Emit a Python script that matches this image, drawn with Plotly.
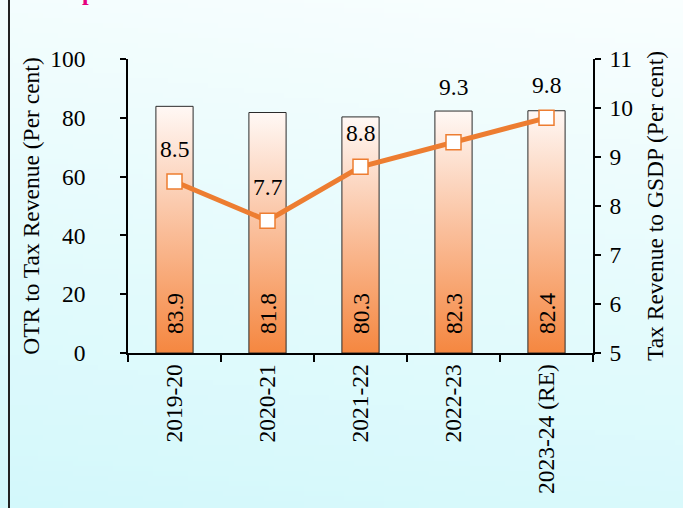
import base64, struct, zlib
import plotly.graph_objects as go

# ---------------- data ----------------
years = ["2019-20", "2020-21", "2021-22", "2022-23", "2023-24 (RE)"]
otr_share = [83.9, 81.8, 80.3, 82.3, 82.4]          # OTR to Tax Revenue (%)
tax_gsdp = [8.5, 7.7, 8.8, 9.3, 9.8]                # Tax Revenue to GSDP (%)
left_ticks = [0, 20, 40, 60, 80, 100]
right_ticks = [5, 6, 7, 8, 9, 10, 11]

# label offsets (style) for the line labels, in pixels above the markers
line_label_shift = [33, 34, 34, 55, 33]

# ---------------- layout geometry ----------------
W, H = 683, 508
ML, MR, MT, MB = 128, 90, 59, 155
PW, PH = W - ML - MR, H - MT - MB

def px_x(p):  # pixel -> paper x
    return (p - ML) / PW

def px_y(p):  # pixel -> paper y
    return 1 - (p - MT) / PH

FONT = "Liberation Serif, Times New Roman, serif"
FS = 23.5
ORANGE = "#ED7D31"

# ---------------- background gradient image ----------------
def make_png(w, h):
    top = (249, 254, 254)
    bot = (211, 248, 251)
    rows = []
    for y in range(h):
        row = bytearray([0])
        for x in range(w):
            t = 0.85 * y / (h - 1) + 0.15 * (1 - x / (w - 1))
            t = min(max(t, 0), 1)
            row += bytes(int(round(top[k] + (bot[k] - top[k]) * t)) for k in range(3))
        rows.append(bytes(row))
    raw = b"".join(rows)

    def chunk(tag, data):
        c = struct.pack(">I", len(data)) + tag + data
        return c + struct.pack(">I", zlib.crc32(tag + data) & 0xFFFFFFFF)

    png = b"\x89PNG\r\n\x1a\n"
    png += chunk(b"IHDR", struct.pack(">IIBBBBB", w, h, 8, 2, 0, 0, 0))
    png += chunk(b"IDAT", zlib.compress(raw, 9))
    png += chunk(b"IEND", b"")
    return "data:image/png;base64," + base64.b64encode(png).decode()

bg = make_png(136, 101)

fig = go.Figure()

# ---------------- bars (gradient filled polygons) ----------------
half = 0.2
for i, v in enumerate(otr_share):
    xs = [i - half, i + half, i + half, i - half, i - half]
    ys = [0, 0, v, v, 0]
    fig.add_trace(go.Scatter(
        x=xs, y=ys, mode="lines", fill="toself",
        fillgradient=dict(type="vertical",
                          colorscale=[[0, "#F58740"], [0.5, "#FABE9A"], [1, "#FFF8F5"]]),
        line=dict(color="#2b2b2b", width=1),
        hoverinfo="skip", showlegend=False, xaxis="x", yaxis="y"))

# ---------------- line ----------------
fig.add_trace(go.Scatter(
    x=list(range(len(years))), y=tax_gsdp, mode="lines+markers",
    line=dict(color=ORANGE, width=5),
    marker=dict(symbol="square", size=15, color="white",
                line=dict(color=ORANGE, width=1.5)),
    showlegend=False, xaxis="x", yaxis="y2"))

annotations = []
for i, v in enumerate(otr_share):
    annotations.append(dict(x=i, y=0, xref="x", yref="y", text=f"{v:.1f}",
                            textangle=-90, showarrow=False, yanchor="bottom",
                            yshift=17, font=dict(family=FONT, size=FS, color="black")))
for i, v in enumerate(tax_gsdp):
    annotations.append(dict(x=i, y=v, xref="x", yref="y2", text=f"{v:.1f}",
                            showarrow=False, yanchor="middle", yshift=line_label_shift[i],
                            font=dict(family=FONT, size=FS, color="black")))
# clipped magenta heading fragment at top
annotations.append(dict(x=px_x(88), y=px_y(7), xref="paper", yref="paper", text="<b>p</b>",
                        showarrow=False, xanchor="center", yanchor="bottom",
                        font=dict(family=FONT, size=24, color="#E6007E")))

fig.update_layout(
    width=W, height=H,
    margin=dict(l=ML, r=MR, t=MT, b=MB, pad=0),
    paper_bgcolor="rgba(0,0,0,0)", plot_bgcolor="rgba(0,0,0,0)",
    font=dict(family=FONT, size=FS, color="black"),
    images=[dict(source=bg, xref="paper", yref="paper",
                 x=px_x(0), y=px_y(0), sizex=W / PW, sizey=H / PH,
                 xanchor="left", yanchor="top", sizing="stretch", layer="below")],
    shapes=[dict(type="line", xref="paper", yref="paper",
                 x0=px_x(9), x1=px_x(9), y0=px_y(0), y1=px_y(H),
                 line=dict(color="#222222", width=2))],
    annotations=annotations,
    xaxis=dict(range=[-0.5, len(years) - 0.5], tickmode="array",
               tickvals=list(range(len(years))), ticktext=years, tickangle=-90,
               ticks="", showgrid=False, zeroline=False, showline=True,
               linecolor="black", linewidth=1.5,
               tickfont=dict(family=FONT, size=FS, color="black"),
               minor=dict(tickmode="array",
                          tickvals=[i - 0.5 for i in range(len(years) + 1)],
                          ticks="outside", ticklen=7, tickwidth=1.5, tickcolor="black",
                          showgrid=False)),
    yaxis=dict(range=[0, 100], tickmode="array", tickvals=left_ticks,
               ticks="outside", ticklen=6, tickwidth=1.5, tickcolor="black",
               showline=True, linecolor="black", linewidth=1.5,
               showgrid=False, zeroline=False, ticklabelstandoff=30,
               tickfont=dict(family=FONT, size=FS, color="black"),
               title=dict(text="OTR to Tax Revenue (Per cent)", standoff=4,
                          font=dict(family=FONT, size=FS, color="black"))),
    yaxis2=dict(range=[5, 11], tickmode="array", tickvals=right_ticks,
                overlaying="y", side="right",
                ticks="outside", ticklen=6, tickwidth=1.5, tickcolor="black",
                showline=True, linecolor="black", linewidth=1.5,
                showgrid=False, zeroline=False, ticklabelstandoff=4,
                tickfont=dict(family=FONT, size=FS, color="black"),
                title=dict(text="Tax Revenue to GSDP (Per cent)", standoff=15,
                           font=dict(family=FONT, size=FS, color="black"))),
)

fig.write_html("out.html")
